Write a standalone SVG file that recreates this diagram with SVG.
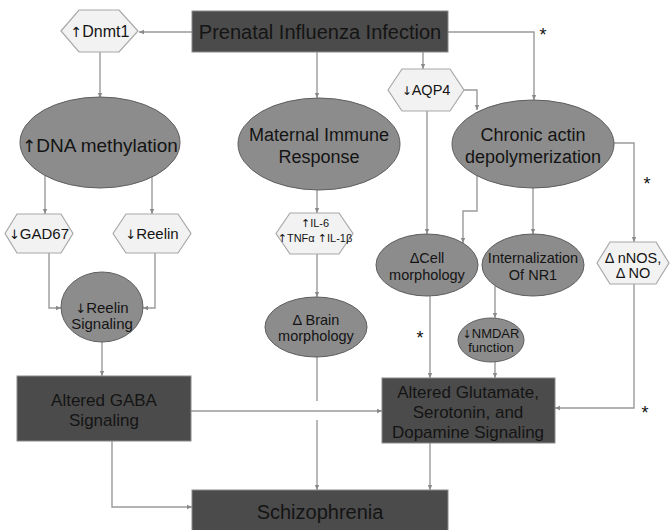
<svg xmlns="http://www.w3.org/2000/svg" width="670" height="530" viewBox="0 0 670 530">
<defs>
<marker id="ah" markerWidth="6" markerHeight="6" refX="5" refY="3" orient="auto" markerUnits="userSpaceOnUse">
<path d="M0,0.8 L5,3 L0,5.2 Z" fill="#8a8a8a"/>
</marker>
<style>
text{font-family:"Liberation Sans",Arial,sans-serif;fill:#141414;text-anchor:middle}
.ar{font-family:"DejaVu Sans",sans-serif;fill:#141414}
.box{fill:#4b4b4b;stroke:#8a8a8a;stroke-width:1}
.ell{fill:#8c8c8c;stroke:#5e5e5e;stroke-width:1}
.hex{fill:#f2f2f2;stroke:#a8a8a8;stroke-width:1.2}
.c{fill:none;stroke:#9a9a9a;stroke-width:1.4}
.a{marker-end:url(#ah)}
.star{font-size:18px;fill:#111}
</style>
</defs>
<rect width="670" height="530" fill="#ffffff"/>

<g id="connectors">
<path class="c a" d="M192,32 H139"/>
<path class="c a" d="M100,52 V98"/>
<path class="c a" d="M317,52 V98"/>
<path class="c a" d="M423,52 V69"/>
<path class="c a" d="M448,32 H534 V100"/>
<path class="c a" d="M464,90 H477 V110"/>
<path class="c a" d="M427,111 V234"/>
<path class="c a" d="M477,176 V211 H463 V243"/>
<path class="c a" d="M533,188 V234"/>
<path class="c a" d="M614,143 H634 V242"/>
<path class="c a" d="M45,176 V214"/>
<path class="c a" d="M152,176 V214"/>
<path class="c a" d="M49,253 V308 H61"/>
<path class="c a" d="M155,253 V308 H143"/>
<path class="c a" d="M102,342 V376"/>
<path class="c a" d="M317,190 V213"/>
<path class="c a" d="M317,254 V297"/>
<path class="c" d="M317,357 V401"/>
<path class="c a" d="M317,420 V490"/>
<path class="c a" d="M191,411 H382"/>
<path class="c a" d="M112,441 V507 H192"/>
<path class="c a" d="M430,296 V378"/>
<path class="c a" d="M495,286 V318"/>
<path class="c a" d="M495,361 V378"/>
<path class="c a" d="M634,284 V408 H555"/>
<path class="c a" d="M430,443 V490"/>
<text class="star" x="543" y="41">*</text>
<text class="star" x="647" y="190">*</text>
<text class="star" x="420" y="344">*</text>
<text class="star" x="645" y="419">*</text>
</g>

<g id="prenatal">
<rect class="box" x="192" y="11" width="256" height="41"/>
<text x="320" y="39" font-size="20">Prenatal Influenza Infection</text>
</g>

<g id="dnmt1">
<polygon class="hex" points="61,31 79,10 119,10 138,31 119,52 79,52"/>
<text x="100" y="37" font-size="16"><tspan class="ar" font-size="14">↑</tspan>Dnmt1</text>
</g>

<g id="dna-methylation">
<ellipse class="ell" cx="100" cy="142.5" rx="80" ry="45.5"/>
<text x="100" y="152" font-size="19"><tspan class="ar" font-size="17">↑</tspan>DNA methylation</text>
</g>

<g id="maternal-immune">
<ellipse class="ell" cx="319" cy="144" rx="81" ry="46"/>
<text x="319" y="141" font-size="18">Maternal Immune</text>
<text x="319" y="163" font-size="18">Response</text>
</g>

<g id="aqp4">
<polygon class="hex" points="388,90 402,69 450,69 464,90 450,111 402,111"/>
<text x="426" y="95" font-size="14.5"><tspan class="ar" font-size="12">↓</tspan>AQP4</text>
</g>

<g id="chronic-actin">
<ellipse class="ell" cx="533" cy="144" rx="81" ry="44"/>
<text x="533" y="141" font-size="18">Chronic actin</text>
<text x="533" y="163" font-size="18">depolymerization</text>
</g>

<g id="gad67">
<polygon class="hex" points="5,233.5 17,214 61,214 73,233.5 61,253 17,253"/>
<text x="39" y="239" font-size="15"><tspan class="ar" font-size="13">↓</tspan>GAD67</text>
</g>

<g id="reelin">
<polygon class="hex" points="113,233.5 126,214 178,214 191,233.5 178,253 126,253"/>
<text x="152" y="239" font-size="15"><tspan class="ar" font-size="13">↓</tspan>Reelin</text>
</g>

<g id="reelin-signaling">
<ellipse class="ell" cx="102" cy="307" rx="41" ry="35"/>
<text x="102" y="313" font-size="15"><tspan class="ar" font-size="13">↓</tspan>Reelin</text>
<text x="102" y="329" font-size="15">Signaling</text>
</g>

<g id="cytokines">
<polygon class="hex" points="276,233.5 290,213 339,213 353,233.5 339,254 290,254"/>
<text x="315" y="227" font-size="11"><tspan class="ar" font-size="11">↑</tspan>IL-6</text>
<text x="315" y="242" font-size="11"><tspan class="ar" font-size="11">↑</tspan>TNFα <tspan class="ar" font-size="11">↑</tspan>IL-1β</text>
</g>

<g id="brain-morphology">
<ellipse class="ell" cx="316" cy="327" rx="51" ry="30"/>
<text x="316" y="325" font-size="14.5">Δ Brain</text>
<text x="316" y="341" font-size="14.5">morphology</text>
</g>

<g id="cell-morphology">
<ellipse class="ell" cx="427" cy="265" rx="51" ry="31"/>
<text x="427" y="263" font-size="14.5">ΔCell</text>
<text x="427" y="280" font-size="14.5">morphology</text>
</g>

<g id="internalization">
<ellipse class="ell" cx="533" cy="265" rx="51" ry="31"/>
<text x="533" y="263" font-size="14.5">Internalization</text>
<text x="533" y="280" font-size="14.5">Of NR1</text>
</g>

<g id="nnos">
<polygon class="hex" points="597,263 610,242 656,242 669,263 656,284 610,284"/>
<text x="633" y="263" font-size="14.5">Δ nNOS,</text>
<text x="633" y="278" font-size="14.5">Δ NO</text>
</g>

<g id="nmdar">
<ellipse class="ell" cx="491" cy="340" rx="33" ry="22"/>
<text x="491" y="338" font-size="13"><tspan class="ar" font-size="11">↓</tspan>NMDAR</text>
<text x="491" y="352" font-size="13">function</text>
</g>

<g id="gaba">
<rect class="box" x="17" y="376" width="174" height="65"/>
<text x="104" y="406" font-size="17">Altered GABA</text>
<text x="104" y="426" font-size="17">Signaling</text>
</g>

<g id="glutamate">
<rect class="box" x="382" y="378" width="173" height="65"/>
<text x="468" y="398" font-size="17">Altered Glutamate,</text>
<text x="468" y="418" font-size="17">Serotonin, and</text>
<text x="468" y="438" font-size="17">Dopamine Signaling</text>
</g>

<g id="schizophrenia">
<rect class="box" x="192" y="490" width="256" height="45"/>
<text x="320" y="519" font-size="20">Schizophrenia</text>
</g>
</svg>
